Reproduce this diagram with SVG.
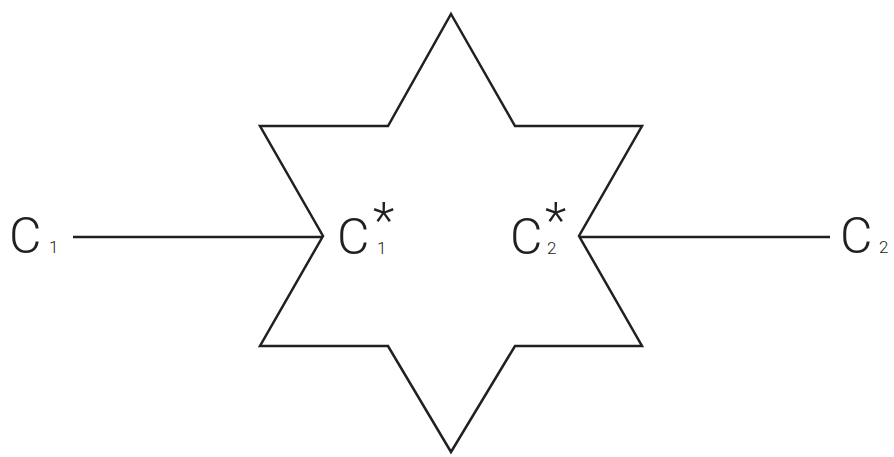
<svg xmlns="http://www.w3.org/2000/svg" width="894" height="457" viewBox="0 0 894 457">
<style>
.ln{fill:none;stroke:#231f20;stroke-width:2.5;stroke-linejoin:miter}
text{font-family:Roboto,"Liberation Sans",sans-serif;font-weight:300;fill:#231f20}
.big{font-size:50px}
.sub{font-size:17px}
.ast{font-size:50px}
</style>
<rect width="894" height="457" fill="#fff"/>
<g id="star">
<polygon class="ln" points="451,14 515,126 642,126 579,236 642,346 515,346 451,452 388,346 260,346 323,236 260,126 388,126"/>
</g>
<g id="connectors">
<line class="ln" x1="73" y1="237" x2="323" y2="237"/>
<line class="ln" x1="579" y1="237" x2="830" y2="237"/>
</g>
<g id="C1"><text x="9" y="253"><tspan class="big">C</tspan><tspan class="sub" x="49">1</tspan></text></g>
<g id="C1star"><text x="337" y="254"><tspan class="big">C</tspan><tspan class="ast" x="373" y="238">*</tspan><tspan class="sub" x="377" y="254">1</tspan></text></g>
<g id="C2star"><text x="510" y="254"><tspan class="big">C</tspan><tspan class="ast" x="545" y="238">*</tspan><tspan class="sub" x="547" y="254">2</tspan></text></g>
<g id="C2"><text x="840" y="253"><tspan class="big">C</tspan><tspan class="sub" x="879">2</tspan></text></g>
</svg>
